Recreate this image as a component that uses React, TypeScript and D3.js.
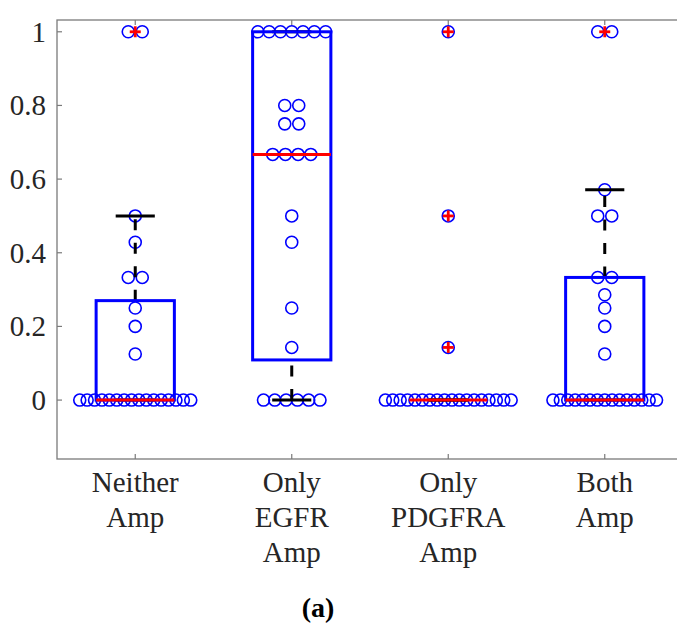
import React from "react";
import * as d3 from "d3";

// ---- Data ----
const categories: string[][] = [
  ["Neither", "Amp"],
  ["Only", "EGFR", "Amp"],
  ["Only", "PDGFRA", "Amp"],
  ["Both", "Amp"],
];

const neitherAmp: number[] = [
  0, 0, 0, 0, 0, 0, 0, 0, 0, 0, 0, 0, 0, 0, 0, 0,
  0.125, 0.2, 0.25, 0.333, 0.333, 0.4286, 0.5, 1, 1,
];
const onlyEGFR: number[] = [
  0, 0, 0, 0, 0, 0,
  0.1429, 0.25, 0.4286, 0.5, 0.667, 0.667, 0.667, 0.667,
  0.75, 0.75, 0.8, 0.8, 1, 1, 1, 1, 1, 1, 1,
];
const onlyPDGFRA: number[] = [
  0, 0, 0, 0, 0, 0, 0, 0, 0, 0, 0, 0, 0, 0, 0, 0, 0, 0,
  0.1429, 0.5, 1,
];
const bothAmp: number[] = [
  0, 0, 0, 0, 0, 0, 0, 0, 0, 0, 0, 0, 0, 0, 0,
  0.125, 0.2, 0.25, 0.286, 0.333, 0.333, 0.5, 0.5, 0.571, 1, 1,
];
const groups: number[][] = [neitherAmp, onlyEGFR, onlyPDGFRA, bothAmp];

// box statistics
const q1: number[] = [0, 0.109, 0, 0];
const medians: number[] = [0, 0.667, 0, 0];
const q3: number[] = [0.27, 1, 0, 0.333];
const whiskerLow: number[] = [0, 0, 0, 0];
const whiskerHigh: number[] = [0.5, 1, 0, 0.571];
const outliers: number[][] = [[1], [], [0.1429, 0.5, 1], [1]];

const yTicks: number[] = [0, 0.2, 0.4, 0.6, 0.8, 1];
const yTickLabels: string[] = ["0", "0.2", "0.4", "0.6", "0.8", "1"];
const panelLabel = "(a)";

// ---- Layout ----
const W = 677;
const H = 631;
const FONT = "'Liberation Serif', 'Times New Roman', serif";

const x = d3.scaleLinear().domain([0.5, 4.5]).range([57, 683]);
const y = d3.scaleLinear().domain([-0.16, 1.032]).range([459, 20]);

const boxHalf = 0.25;
const capHalf = 0.125;

function spacing(n: number): number {
  if (n <= 2) return 14;
  if (n <= 4) return 12.7;
  if (n <= 7) return 11.3;
  return 7.4;
}

function swarm(vals: number[], gi: number) {
  const byVal = d3.group(vals, (v) => v.toFixed(4));
  const pts: { cx: number; cy: number }[] = [];
  byVal.forEach((arr, key) => {
    const n = arr.length;
    const sp = spacing(n);
    arr.forEach((_, i) => {
      pts.push({ cx: x(gi + 1) + (i - (n - 1) / 2) * sp, cy: y(+key) });
    });
  });
  return pts;
}

export default function App() {
  const frameColor = "#7a7a7a";
  const textColor = "#262626";
  const x0 = x.range()[0];
  const x1 = x.range()[1];
  const yTop = y.range()[1];
  const yBot = y.range()[0];

  return (
    <svg
      width={W}
      height={H}
      style={{ position: "absolute", left: 0, top: 0, background: "#fff" }}
      fontFamily={FONT}
    >
      <rect x={0} y={0} width={W} height={H} fill="#fff" />
      {/* frame */}
      <rect
        x={x0}
        y={yTop}
        width={x1 - x0}
        height={yBot - yTop}
        fill="none"
        stroke={frameColor}
        strokeWidth={1.3}
      />
      {/* y ticks */}
      {yTicks.map((t, i) => (
        <g key={"yt" + i}>
          <line x1={x0} x2={x0 + 5} y1={y(t)} y2={y(t)} stroke={frameColor} strokeWidth={1.2} />
          <line x1={x1} x2={x1 - 5} y1={y(t)} y2={y(t)} stroke={frameColor} strokeWidth={1.2} />
          <text
            x={46}
            y={y(t)}
            textAnchor="end"
            dominantBaseline="central"
            fontSize={29}
            fill={textColor}
          >
            {yTickLabels[i]}
          </text>
        </g>
      ))}
      {/* x ticks and labels */}
      {categories.map((lines, i) => (
        <g key={"xt" + i}>
          <line x1={x(i + 1)} x2={x(i + 1)} y1={yBot} y2={yBot - 5} stroke={frameColor} strokeWidth={1.2} />
          <line x1={x(i + 1)} x2={x(i + 1)} y1={yTop} y2={yTop + 5} stroke={frameColor} strokeWidth={1.2} />
          {lines.map((l, j) => (
            <text
              key={j}
              x={x(i + 1)}
              y={492 + j * 35}
              textAnchor="middle"
              fontSize={29}
              fill={textColor}
            >
              {l}
            </text>
          ))}
        </g>
      ))}

      {/* swarm points */}
      {groups.map((g, gi) =>
        swarm(g, gi).map((p, k) => (
          <circle
            key={gi + "-" + k}
            cx={p.cx}
            cy={p.cy}
            r={6}
            fill="none"
            stroke="#0000ff"
            strokeWidth={1.6}
          />
        ))
      )}

      {/* box plots */}
      {groups.map((_, gi) => {
        const c = gi + 1;
        return (
          <g key={"bp" + gi}>
            {/* whiskers (drawn from lower value upward) */}
            {q1[gi] > whiskerLow[gi] && (
              <line
                x1={x(c)}
                x2={x(c)}
                y1={y(whiskerLow[gi])}
                y2={y(q1[gi])}
                stroke="#000"
                strokeWidth={3}
                strokeDasharray="11,12.5"
              />
            )}
            {whiskerHigh[gi] > q3[gi] && (
              <line
                x1={x(c)}
                x2={x(c)}
                y1={y(q3[gi])}
                y2={y(whiskerHigh[gi])}
                stroke="#000"
                strokeWidth={3}
                strokeDasharray="11,12.5"
              />
            )}
            {/* caps */}
            <line
              x1={x(c - capHalf)}
              x2={x(c + capHalf)}
              y1={y(whiskerLow[gi])}
              y2={y(whiskerLow[gi])}
              stroke="#000"
              strokeWidth={3}
            />
            <line
              x1={x(c - capHalf)}
              x2={x(c + capHalf)}
              y1={y(whiskerHigh[gi])}
              y2={y(whiskerHigh[gi])}
              stroke="#000"
              strokeWidth={3}
            />
            {/* box */}
            <rect
              x={x(c - boxHalf)}
              y={y(q3[gi])}
              width={x(c + boxHalf) - x(c - boxHalf)}
              height={Math.max(0, y(q1[gi]) - y(q3[gi]))}
              fill="none"
              stroke="#0000ff"
              strokeWidth={3}
            />
            {/* median */}
            <line
              x1={x(c - boxHalf)}
              x2={x(c + boxHalf)}
              y1={y(medians[gi])}
              y2={y(medians[gi])}
              stroke="#ff0000"
              strokeWidth={3}
            />
            {/* outliers */}
            {outliers[gi].map((o, k) => (
              <g key={k} stroke="#ff0000" strokeWidth={2.8}>
                <line x1={x(c) - 5.5} x2={x(c) + 5.5} y1={y(o)} y2={y(o)} />
                <line x1={x(c)} x2={x(c)} y1={y(o) - 5.5} y2={y(o) + 5.5} />
              </g>
            ))}
          </g>
        );
      })}

      {/* panel label */}
      <text
        x={318}
        y={617}
        textAnchor="middle"
        fontSize={28}
        fontWeight="bold"
        fill="#000"
      >
        {panelLabel}
      </text>
    </svg>
  );
}
